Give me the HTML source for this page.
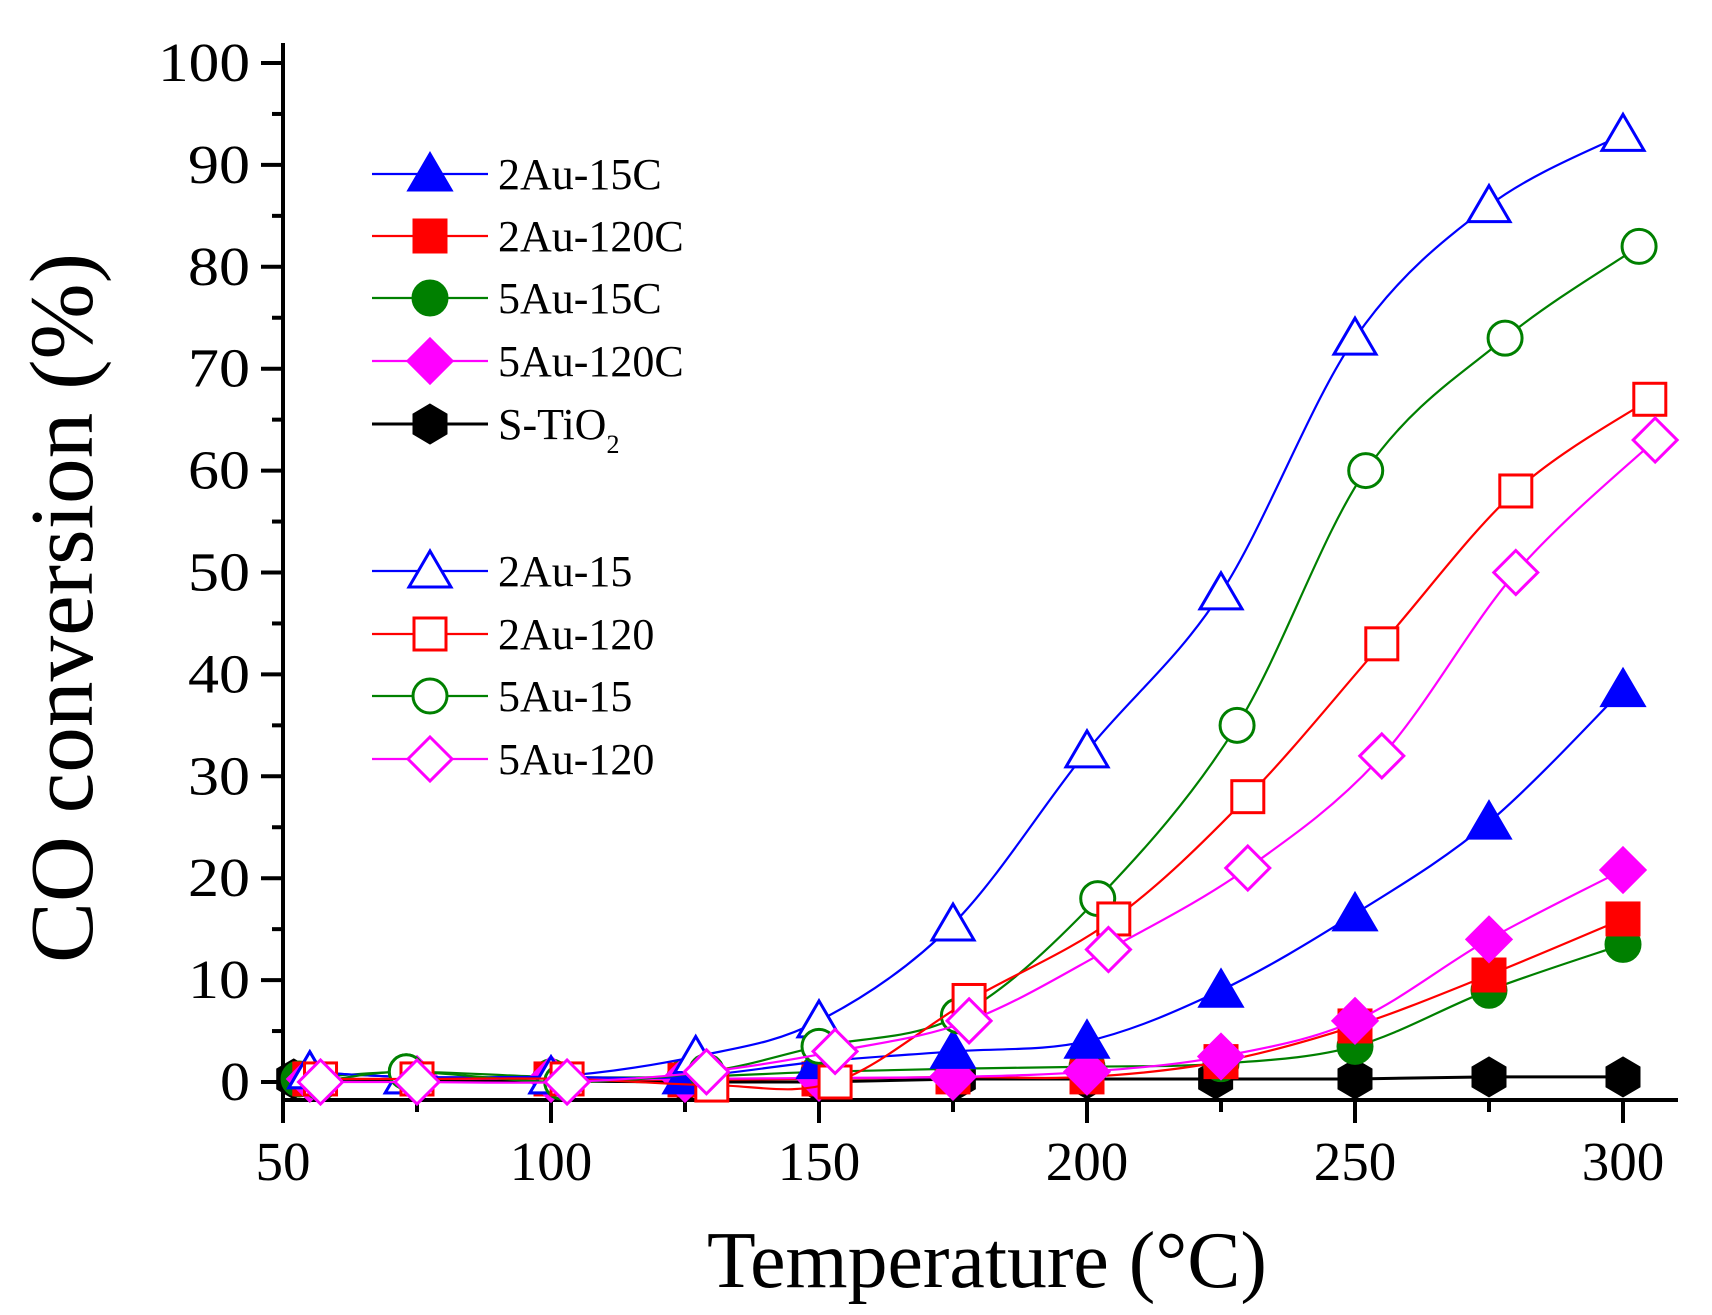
<!DOCTYPE html>
<html><head><meta charset="utf-8"><style>
html,body{margin:0;padding:0;background:#fff;}
svg{display:block;font-family:"Liberation Serif",serif;}
</style></head><body>
<svg id="s" width="1712" height="1315" xmlns="http://www.w3.org/2000/svg"></svg>
<script>
const s=document.getElementById('s');
let h='';
const X=t=>283+(t-50)*5.36, Y=v=>1082-v*10.19;
h+='<line x1="283" y1="43" x2="283" y2="1101" stroke="#000" stroke-width="4"/>';
h+='<line x1="281" y1="1100" x2="1678" y2="1100" stroke="#000" stroke-width="4"/>';
for(let v=0;v<=100;v+=5){const y=Y(v);const maj=v%10==0;
 h+=`<line x1="${maj?261:272}" y1="${y}" x2="283" y2="${y}" stroke="#000" stroke-width="4"/>`;
 if(maj)h+=`<text x="250" y="${y+18}" font-size="55" text-anchor="end" textLength="${v==100?92:v==0?30:62}" lengthAdjust="spacingAndGlyphs">${v}</text>`;}
for(let t=50;t<=300;t+=25){const x=X(t);const maj=t%50==0;
 h+=`<line x1="${x}" y1="1100" x2="${x}" y2="${maj?1123:1112}" stroke="#000" stroke-width="4"/>`;
 if(maj)h+=`<text x="${x}" y="1180" font-size="55" text-anchor="middle">${t}</text>`;}
h+='<text x="987" y="1287" font-size="80" text-anchor="middle" textLength="560" lengthAdjust="spacingAndGlyphs">Temperature (°C)</text>';
h+='<text transform="translate(92,608) rotate(-90)" font-size="90" text-anchor="middle" textLength="710" lengthAdjust="spacingAndGlyphs">CO conversion (%)</text>';
function path(pts){const p=pts.map(a=>[X(a[0]),Y(a[1])]);let d=`M${p[0][0]},${p[0][1]}`;
 for(let i=0;i<p.length-1;i++){const p0=p[Math.max(i-1,0)],p1=p[i],p2=p[i+1],p3=p[Math.min(i+2,p.length-1)];
 const c1=[p1[0]+(p2[0]-p0[0])/6,p1[1]+(p2[1]-p0[1])/6],c2=[p2[0]-(p3[0]-p1[0])/6,p2[1]-(p3[1]-p1[1])/6];
 d+=` C${c1[0]},${c1[1]} ${c2[0]},${c2[1]} ${p2[0]},${p2[1]}`;}return d;}
function mk(type,x,y,c,fill){const f=fill?c:'#fff',sw=3;
 switch(type){
 case 'tri':return `<polygon points="${x},${y-20} ${x+21},${y+16} ${x-21},${y+16}" fill="${f}" stroke="${c}" stroke-width="${sw}"/>`;
 case 'sq':return `<rect x="${x-16}" y="${y-16}" width="32" height="32" fill="${f}" stroke="${c}" stroke-width="${sw}"/>`;
 case 'ci':return `<circle cx="${x}" cy="${y}" r="17" fill="${f}" stroke="${c}" stroke-width="${sw}"/>`;
 case 'di':return `<polygon points="${x},${y-22} ${x+22},${y} ${x},${y+22} ${x-22},${y}" fill="${f}" stroke="${c}" stroke-width="${sw}"/>`;
 case 'hx':return `<polygon points="${x},${y-20} ${x+17},${y-10} ${x+17},${y+10} ${x},${y+20} ${x-17},${y+10} ${x-17},${y-10}" fill="${f}" stroke="${c}" stroke-width="1"/>`;}}
const S=[
['hx','#000',1,[[52,0.3],[125,0],[150,0],[176,0.3],[200,0.3],[224,0.3],[250,0.3],[275,0.5],[300,0.5]],'S-TiO<tspan font-size="26" dy="14">2</tspan>',424,true],
['ci','#008000',1,[[53,0.3],[73,1],[100,0.5],[125,0.5],[150,1],[175,1.3],[200,1.5],[225,1.8],[250,3.5],[275,9],[300,13.5]],'5Au-15C',298,false],
['sq','#ff0000',1,[[55,0.3],[75,0.3],[100,0.3],[125,0.2],[150,0.3],[175,0.5],[200,0.5],[225,2],[250,5.5],[275,10.5],[300,16]],'2Au-120C',236,false],
['di','#ff00ff',1,[[55,0.3],[75,0.3],[100,0.3],[125,0.3],[150,0.4],[175,0.5],[200,1],[225,2.5],[250,6],[275,14],[300,20.8]],'5Au-120C',361,false],
['tri','#0000ff',1,[[55,1],[73,0.5],[100,0.5],[125,0.5],[150,2],[175,3],[200,4],[225,9],[250,16.5],[275,25.5],[300,38.5]],'2Au-15C',174,false],
['tri','#0000ff',0,[[55,1],[73,0.5],[100,0.5],[127,2.5],[150,6],[175,15.5],[200,32.5],[225,48],[250,73],[275,86],[300,93]],'2Au-15',571,false],
['ci','#008000',0,[[57,0],[73,1],[102,0],[129,1],[150,3.5],[176,6.5],[202,18],[228,35],[252,60],[278,73],[303,82]],'5Au-15',696,false],
['sq','#ff0000',0,[[57,0.3],[75,0.3],[103,0.3],[130,-0.3],[153,0],[178,8],[205,16],[230,28],[255,43],[280,58],[305,67]],'2Au-120',634,false],
['di','#ff00ff',0,[[57,0],[75,0],[103,0],[129,1],[153,3],[178,6],[204,13],[230,21],[255,32],[280,50],[306,63]],'5Au-120',759,false]];
for(const [t,c,f,pts,lab,ly,straight] of S){
 const d=straight?'M'+pts.map(a=>X(a[0])+','+Y(a[1])).join(' L'):path(pts);
 h+=`<path d="${d}" fill="none" stroke="${c}" stroke-width="${straight?3:2.2}"/>`;
 for(const a of pts)h+=mk(t,X(a[0]),Y(a[1]),c,f);
 h+=`<line x1="372" y1="${ly}" x2="488" y2="${ly}" stroke="${c}" stroke-width="${straight?3:2.2}"/>`;
 h+=mk(t,430,ly,c,f);
 h+=`<text x="498" y="${ly+15}" font-size="44">${lab}</text>`;}
s.innerHTML=h;
</script>
</body></html>
